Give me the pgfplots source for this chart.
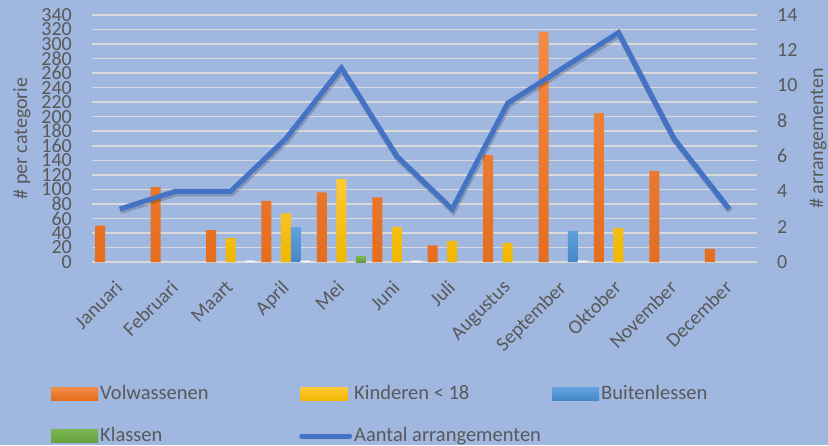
\documentclass[border=0pt]{standalone}
\usepackage{pgfplots}
\pgfplotsset{compat=1.18}
\usepackage{fontspec}
\setmainfont{Carlito}
\definecolor{bg}{HTML}{A0B8E0}
\definecolor{gridc}{HTML}{D9D9D9}
\definecolor{txt}{HTML}{595959}
\definecolor{orT}{HTML}{F28B48}
\definecolor{orB}{HTML}{E56D1E}
\definecolor{yeT}{HTML}{FFC935}
\definecolor{yeB}{HTML}{F0B700}
\definecolor{blT}{HTML}{62A3DF}
\definecolor{blB}{HTML}{4487C9}
\definecolor{grT}{HTML}{7AB552}
\definecolor{grB}{HTML}{65A03D}
\definecolor{lineblue}{HTML}{4472C4}
\pgfplotsset{
  mybar/.style={ybar, bar width=10pt, draw=none,
    legend image code/.code={\path[##1, draw=none] (0pt,-6.5pt) rectangle (47pt,6.5pt);}},
  mylinelegend/.style={legend image code/.code={\path (0pt,0pt) -- (47pt,0pt); \draw[##1, line cap=round] (1pt,0pt) -- (49pt,0pt);}},
}
\begin{document}
\fontsize{20}{24}\selectfont
\begin{tikzpicture}[x=1pt,y=1pt]
\fill[bg] (0,0) rectangle (828,445);
\useasboundingbox (0,0) rectangle (828,445);
\begin{axis}[
  at={(92pt,183pt)}, anchor=south west,
  width=665pt, height=247pt, scale only axis,
  xmin=-0.5, xmax=11.5, ymin=0, ymax=340,
  xtick={0,...,11},
  xticklabels={Januari,Februari,Maart,April,Mei,Juni,Juli,Augustus,September,Oktober,November,December},
  ytick={0,20,...,340},
  ymajorgrids, grid style={gridc, line width=1.5pt},
  axis line style={draw=none}, major tick length=0pt,
  tick label style={text=txt, font=\fontsize{20}{24}\selectfont},
  /pgf/number format/assume math mode=true,
  yticklabel style={anchor=east, inner sep=0pt, xshift=-20pt},
  xticklabel style={rotate=45, anchor=north east, inner sep=0pt, xshift=-16pt, yshift=-8pt},
  ylabel={\# per categorie},
  ylabel style={at={(axis description cs:0,0.5)}, anchor=center, rotate=0, yshift=70pt, text=txt, font=\fontsize{20}{24}\selectfont},
  clip=false,
  legend columns=3,
  legend cell align=left,
  legend style={at={(axis description cs:0,0)}, anchor=north west, xshift=-41pt, yshift=-121pt,
    draw=none, fill=none, inner sep=0pt, row sep=21pt, column sep=0pt,
    text=txt, font=\fontsize{20.5}{24}\selectfont, nodes={inner sep=2pt}},
]
\addplot[mybar, bar shift=-19.5pt, top color=orT, bottom color=orB] coordinates {
 (0,50) (1,103) (2,44) (3,84) (4,96) (5,89) (6,23) (7,147) (8,317) (9,205) (10,125) (11,18)};
\addlegendentry{\makebox[196pt][l]{Volwassenen}}
\addplot[mybar, bar shift=0pt, top color=yeT, bottom color=yeB] coordinates {
 (2,33) (3,67) (4,114) (5,48) (6,29) (7,26) (9,47)};
\addlegendentry{\makebox[196pt][l]{Kinderen < 18}}
\addplot[mybar, bar shift=9.8pt, top color=blT, bottom color=blB] coordinates {
 (3,48) (8,43)};
\addlegendentry{\makebox[196pt][l]{Buitenlessen}}
\addplot[mybar, bar shift=19.5pt, top color=grT, bottom color=grB] coordinates {
 (4,7)};
\addlegendentry{\makebox[196pt][l]{Klassen}}
\addplot[mybar, bar shift=19.5pt, fill=white, forget plot] coordinates {
 (2,2) (3,2) (5,2) (8,2)};
\addlegendimage{lineblue, line width=5pt, mylinelegend}
\addlegendentry{Aantal arrangementen}
\end{axis}
\begin{axis}[
  at={(92pt,183pt)}, anchor=south west,
  width=665pt, height=247pt, scale only axis,
  xmin=-0.5, xmax=11.5, ymin=0, ymax=14,
  ytick={0,2,...,14},
  axis y line*=right, hide x axis,
  axis line style={draw=none}, major tick length=0pt,
  tick label style={text=txt, font=\fontsize{20}{24}\selectfont},
  /pgf/number format/assume math mode=true,
  yticklabel style={anchor=west, inner sep=0pt, xshift=20pt},
  ylabel={\# arrangementen},
  ylabel style={at={(axis description cs:1,0.5)}, anchor=center, rotate=0, yshift=-61pt, text=txt, font=\fontsize{20}{24}\selectfont},
  clip=false,
]
\addplot[black, opacity=0.18, line width=6pt, xshift=1pt, yshift=-2pt, forget plot] coordinates {
 (0,3) (1,4) (2,4) (3,7) (4,11) (5,6) (6,3) (7,9) (8,11) (9,13) (10,7) (11,3)};
\addplot[lineblue, line width=5pt] coordinates {
 (0,3) (1,4) (2,4) (3,7) (4,11) (5,6) (6,3) (7,9) (8,11) (9,13) (10,7) (11,3)};
\end{axis}
\end{tikzpicture}
\end{document}
